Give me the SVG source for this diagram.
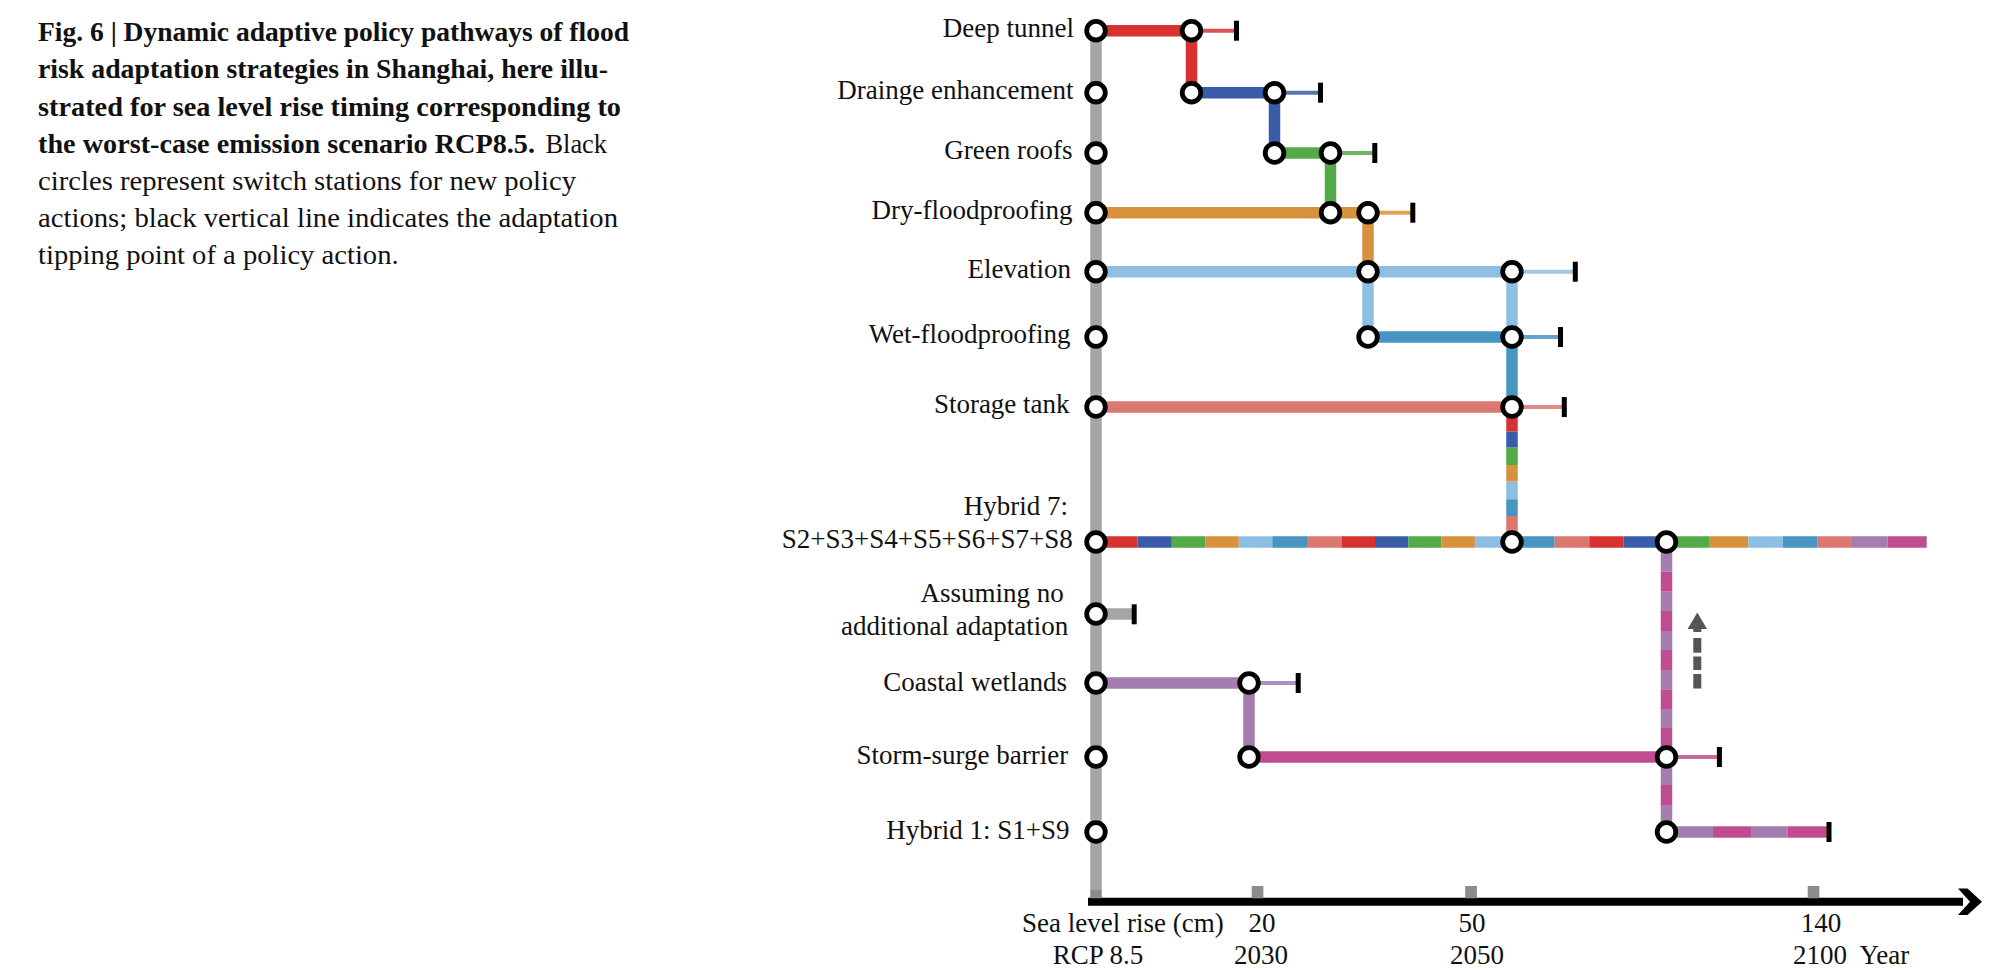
<svg xmlns="http://www.w3.org/2000/svg" width="2002" height="976" viewBox="0 0 2002 976">
<style>
.cap{font-family:"Liberation Serif","Times New Roman",serif;font-size:28px;fill:#111}
.b{font-weight:bold}
.lbl{font-family:"Liberation Serif","Times New Roman",serif;font-size:27px;fill:#111;text-anchor:end}
.ax{font-family:"Liberation Serif","Times New Roman",serif;font-size:27px;fill:#111}
.k{stroke-width:11.5;fill:none;stroke-linecap:butt}
.t{stroke-width:4;fill:none;opacity:0.85}
.tick{fill:#000}
.sw{fill:#fff;stroke:#000;stroke-width:4.8}
.red{stroke:#d73230}.blu{stroke:#3a5ca8}.grn{stroke:#53aa48}.org{stroke:#d8923b}
.lb{stroke:#8cbfe3}.stl{stroke:#4795c3}.sal{stroke:#db786f}.pur{stroke:#a57db1}
.mag{stroke:#bf4d90}.gry{stroke:#a5a5a5}
.gt{fill:#8c8c8c}
.da{fill:#555}
</style>
<g id="caption">
<text class="cap b" x="38" y="41" textLength="591" lengthAdjust="spacingAndGlyphs">Fig. 6 | Dynamic adaptive policy pathways of flood</text>
<text class="cap b" x="38" y="78" textLength="570" lengthAdjust="spacingAndGlyphs">risk adaptation strategies in Shanghai, here illu-</text>
<text class="cap b" x="38" y="115.5" textLength="583" lengthAdjust="spacingAndGlyphs">strated for sea level rise timing corresponding to</text>
<text class="cap b" x="38" y="152.5" textLength="497" lengthAdjust="spacingAndGlyphs">the worst-case emission scenario RCP8.5.</text>
<text class="cap" x="545.5" y="152.5" textLength="61.5" lengthAdjust="spacingAndGlyphs">Black</text>
<text class="cap" x="38" y="190" textLength="538" lengthAdjust="spacingAndGlyphs">circles represent switch stations for new policy</text>
<text class="cap" x="38" y="227" textLength="580" lengthAdjust="spacingAndGlyphs">actions; black vertical line indicates the adaptation</text>
<text class="cap" x="38" y="264" textLength="360.6" lengthAdjust="spacingAndGlyphs">tipping point of a policy action.</text>
</g>
<g id="axis">
<line x1="1088" y1="901.7" x2="1963" y2="901.7" stroke="#000" stroke-width="8"/>
<polygon points="1958,888.5 1967.5,888.5 1982,901.7 1967.5,915 1958,915 1970,901.7" fill="#000"/>
<rect class="gt" x="1251.7" y="886" width="11.7" height="12.3"/>
<rect class="gt" x="1465.2" y="886" width="11.7" height="12.3"/>
<rect class="gt" x="1807.7" y="886" width="11.7" height="12.3"/>
<text class="ax" x="1022" y="932">Sea level rise (cm)</text>
<text class="ax" x="1262" y="932" text-anchor="middle">20</text>
<text class="ax" x="1472" y="932" text-anchor="middle">50</text>
<text class="ax" x="1821" y="932" text-anchor="middle">140</text>
<text class="ax" x="1052.7" y="964">RCP 8.5</text>
<text class="ax" x="1261" y="964" text-anchor="middle">2030</text>
<text class="ax" x="1477" y="964" text-anchor="middle">2050</text>
<text class="ax" x="1820" y="964" text-anchor="middle">2100</text>
<text class="ax" x="1859.5" y="964">Year</text>
</g>
<g id="connectors">
<line class="k gry" x1="1096" y1="30.7" x2="1096" y2="898"/>
<rect x="1090.5" y="890" width="11" height="8.3" fill="#8c8c8c"/>
<line class="k red" x1="1096" y1="30.7" x2="1191.5" y2="30.7"/>
<line class="t red" x1="1191.5" y1="30.7" x2="1236" y2="30.7"/>
<line class="k red" x1="1191.5" y1="30.7" x2="1191.5" y2="92.7"/>
<line class="k blu" x1="1191.5" y1="92.7" x2="1274.5" y2="92.7"/>
<line class="t blu" x1="1274.5" y1="92.7" x2="1320" y2="92.7"/>
<line class="k blu" x1="1274.5" y1="92.7" x2="1274.5" y2="153"/>
<line class="k grn" x1="1274.5" y1="153" x2="1330.5" y2="153"/>
<line class="t grn" x1="1330.5" y1="153" x2="1374" y2="153"/>
<line class="k grn" x1="1330.5" y1="153" x2="1330.5" y2="212.7"/>
<line class="k org" x1="1096" y1="212.7" x2="1368" y2="212.7"/>
<line class="t org" x1="1368" y1="212.7" x2="1412" y2="212.7"/>
<line class="k org" x1="1368" y1="212.7" x2="1368" y2="271.7"/>
<line class="k lb" x1="1096" y1="271.7" x2="1512" y2="271.7"/>
<line class="t lb" x1="1512" y1="271.7" x2="1575" y2="271.7"/>
<line class="k lb" x1="1368" y1="271.7" x2="1368" y2="337"/>
<line class="k lb" x1="1512" y1="271.7" x2="1512" y2="337"/>
<line class="k stl" x1="1368" y1="337" x2="1512" y2="337"/>
<line class="t stl" x1="1512" y1="337" x2="1560" y2="337"/>
<line class="k stl" x1="1512" y1="337" x2="1512" y2="407"/>
<line class="k sal" x1="1096" y1="407" x2="1512" y2="407"/>
<line class="t sal" x1="1512" y1="407" x2="1564" y2="407"/>
<line class="k red" x1="1512" y1="407" x2="1512" y2="431.7"/>
<line class="k blu" x1="1512" y1="431.7" x2="1512" y2="447.7"/>
<line class="k grn" x1="1512" y1="447.7" x2="1512" y2="465"/>
<line class="k org" x1="1512" y1="465" x2="1512" y2="481.7"/>
<line class="k lb" x1="1512" y1="481.7" x2="1512" y2="499.3"/>
<line class="k stl" x1="1512" y1="499.3" x2="1512" y2="516"/>
<line class="k sal" x1="1512" y1="516" x2="1512" y2="542"/>
<line class="k red" x1="1096" y1="542" x2="1137.5" y2="542"/>
<line class="k blu" x1="1137.5" y1="542" x2="1171.8" y2="542"/>
<line class="k grn" x1="1171.8" y1="542" x2="1205.3" y2="542"/>
<line class="k org" x1="1205.3" y1="542" x2="1238.8" y2="542"/>
<line class="k lb" x1="1238.8" y1="542" x2="1272.3" y2="542"/>
<line class="k stl" x1="1272.3" y1="542" x2="1307" y2="542"/>
<line class="k sal" x1="1307" y1="542" x2="1341.5" y2="542"/>
<line class="k red" x1="1341.5" y1="542" x2="1375" y2="542"/>
<line class="k blu" x1="1375" y1="542" x2="1408.4" y2="542"/>
<line class="k grn" x1="1408.4" y1="542" x2="1441.5" y2="542"/>
<line class="k org" x1="1441.5" y1="542" x2="1474.9" y2="542"/>
<line class="k lb" x1="1474.9" y1="542" x2="1512" y2="542"/>
<line class="k stl" x1="1512" y1="542" x2="1554.7" y2="542"/>
<line class="k sal" x1="1554.7" y1="542" x2="1589.3" y2="542"/>
<line class="k red" x1="1589.3" y1="542" x2="1623.4" y2="542"/>
<line class="k blu" x1="1623.4" y1="542" x2="1666.5" y2="542"/>
<line class="k grn" x1="1666.5" y1="542" x2="1709" y2="542"/>
<line class="k org" x1="1709" y1="542" x2="1748.3" y2="542"/>
<line class="k lb" x1="1748.3" y1="542" x2="1783" y2="542"/>
<line class="k stl" x1="1783" y1="542" x2="1817.7" y2="542"/>
<line class="k sal" x1="1817.7" y1="542" x2="1852" y2="542"/>
<line class="k pur" x1="1852" y1="542" x2="1887.5" y2="542"/>
<line class="k mag" x1="1887.5" y1="542" x2="1926.7" y2="542"/>
<line class="k pur" x1="1666.5" y1="542" x2="1666.5" y2="571.7"/>
<line class="k mag" x1="1666.5" y1="571.7" x2="1666.5" y2="591.7"/>
<line class="k pur" x1="1666.5" y1="591.7" x2="1666.5" y2="611"/>
<line class="k mag" x1="1666.5" y1="611" x2="1666.5" y2="631"/>
<line class="k pur" x1="1666.5" y1="631" x2="1666.5" y2="650"/>
<line class="k mag" x1="1666.5" y1="650" x2="1666.5" y2="670"/>
<line class="k pur" x1="1666.5" y1="670" x2="1666.5" y2="689.3"/>
<line class="k mag" x1="1666.5" y1="689.3" x2="1666.5" y2="709"/>
<line class="k pur" x1="1666.5" y1="709" x2="1666.5" y2="728"/>
<line class="k mag" x1="1666.5" y1="728" x2="1666.5" y2="757"/>
<line class="k pur" x1="1666.5" y1="757" x2="1666.5" y2="785"/>
<line class="k mag" x1="1666.5" y1="785" x2="1666.5" y2="805"/>
<line class="k pur" x1="1666.5" y1="805" x2="1666.5" y2="832"/>
<line class="k gry" x1="1096" y1="614" x2="1132" y2="614"/>
<line class="k pur" x1="1096" y1="683" x2="1249" y2="683"/>
<line class="t pur" x1="1249" y1="683" x2="1298" y2="683"/>
<line class="k pur" x1="1249" y1="683" x2="1249" y2="757"/>
<line class="k mag" x1="1249" y1="757" x2="1666.5" y2="757"/>
<line class="t mag" x1="1666.5" y1="757" x2="1719" y2="757"/>
<line class="k pur" x1="1666.5" y1="832" x2="1713" y2="832"/>
<line class="k mag" x1="1713" y1="832" x2="1751" y2="832"/>
<line class="k pur" x1="1751" y1="832" x2="1787.8" y2="832"/>
<line class="k mag" x1="1787.8" y1="832" x2="1827" y2="832"/>
<rect class="tick" x="1234" y="20.7" width="5" height="20"/>
<rect class="tick" x="1318" y="82.7" width="5" height="20"/>
<rect class="tick" x="1372.3" y="143" width="5" height="20"/>
<rect class="tick" x="1410.3" y="202.7" width="5" height="20"/>
<rect class="tick" x="1572.8" y="261.7" width="5" height="20"/>
<rect class="tick" x="1558" y="327" width="5" height="20"/>
<rect class="tick" x="1561.8" y="397" width="5" height="20"/>
<rect class="tick" x="1131.7" y="604.3" width="5" height="20"/>
<rect class="tick" x="1295.7" y="673" width="5" height="20"/>
<rect class="tick" x="1716.9" y="747" width="5" height="20"/>
<rect class="tick" x="1826.5" y="822" width="5" height="20"/>
<polygon class="da" points="1697.3,612.5 1707,629 1687.6,629"/>
<rect class="da" x="1693.3" y="628" width="8" height="4"/>
<rect class="da" x="1693.3" y="638" width="8" height="14.7"/>
<rect class="da" x="1693.3" y="656.5" width="8" height="13.5"/>
<rect class="da" x="1693.3" y="674" width="8" height="14.5"/>
</g>
<g id="node-deep-tunnel">
<text class="lbl" x="1074" y="37">Deep tunnel</text>
<circle class="sw" cx="1096" cy="30.7" r="9.3"/>
<circle class="sw" cx="1191.5" cy="30.7" r="9.3"/>
</g>
<g id="node-drainage">
<text class="lbl" x="1073.5" y="98.7">Drainge enhancement</text>
<circle class="sw" cx="1096" cy="92.7" r="9.3"/>
<circle class="sw" cx="1191.5" cy="92.7" r="9.3"/>
<circle class="sw" cx="1274.5" cy="92.7" r="9.3"/>
</g>
<g id="node-green-roofs">
<text class="lbl" x="1072.5" y="159">Green roofs</text>
<circle class="sw" cx="1096" cy="153" r="9.3"/>
<circle class="sw" cx="1274.5" cy="153" r="9.3"/>
<circle class="sw" cx="1330.5" cy="153" r="9.3"/>
</g>
<g id="node-dry-floodproofing">
<text class="lbl" x="1072.5" y="218.7">Dry-floodproofing</text>
<circle class="sw" cx="1096" cy="212.7" r="9.3"/>
<circle class="sw" cx="1330.5" cy="212.7" r="9.3"/>
<circle class="sw" cx="1368" cy="212.7" r="9.3"/>
</g>
<g id="node-elevation">
<text class="lbl" x="1071" y="277.7">Elevation</text>
<circle class="sw" cx="1096" cy="271.7" r="9.3"/>
<circle class="sw" cx="1368" cy="271.7" r="9.3"/>
<circle class="sw" cx="1512" cy="271.7" r="9.3"/>
</g>
<g id="node-wet-floodproofing">
<text class="lbl" x="1070.5" y="343">Wet-floodproofing</text>
<circle class="sw" cx="1096" cy="337" r="9.3"/>
<circle class="sw" cx="1368" cy="337" r="9.3"/>
<circle class="sw" cx="1512" cy="337" r="9.3"/>
</g>
<g id="node-storage-tank">
<text class="lbl" x="1069.6" y="413">Storage tank</text>
<circle class="sw" cx="1096" cy="407" r="9.3"/>
<circle class="sw" cx="1512" cy="407" r="9.3"/>
</g>
<g id="node-hybrid-7">
<text class="lbl" x="1068" y="515">Hybrid 7:</text>
<text class="lbl" x="1072.7" y="548.3">S2+S3+S4+S5+S6+S7+S8</text>
<circle class="sw" cx="1096" cy="542" r="9.3"/>
<circle class="sw" cx="1512" cy="542" r="9.3"/>
<circle class="sw" cx="1666.5" cy="542" r="9.3"/>
</g>
<g id="node-no-adaptation">
<text class="lbl" x="1063.8" y="601.7">Assuming no</text>
<text class="lbl" x="1068.3" y="635">additional adaptation</text>
<circle class="sw" cx="1096" cy="614" r="9.3"/>
</g>
<g id="node-coastal-wetlands">
<text class="lbl" x="1067" y="690.5">Coastal wetlands</text>
<circle class="sw" cx="1096" cy="683" r="9.3"/>
<circle class="sw" cx="1249" cy="683" r="9.3"/>
</g>
<g id="node-storm-surge-barrier">
<text class="lbl" x="1068.3" y="763.5">Storm-surge barrier</text>
<circle class="sw" cx="1096" cy="757" r="9.3"/>
<circle class="sw" cx="1249" cy="757" r="9.3"/>
<circle class="sw" cx="1666.5" cy="757" r="9.3"/>
</g>
<g id="node-hybrid-1">
<text class="lbl" x="1069.6" y="839">Hybrid 1: S1+S9</text>
<circle class="sw" cx="1096" cy="832" r="9.3"/>
<circle class="sw" cx="1666.5" cy="832" r="9.3"/>
</g>
</svg>
